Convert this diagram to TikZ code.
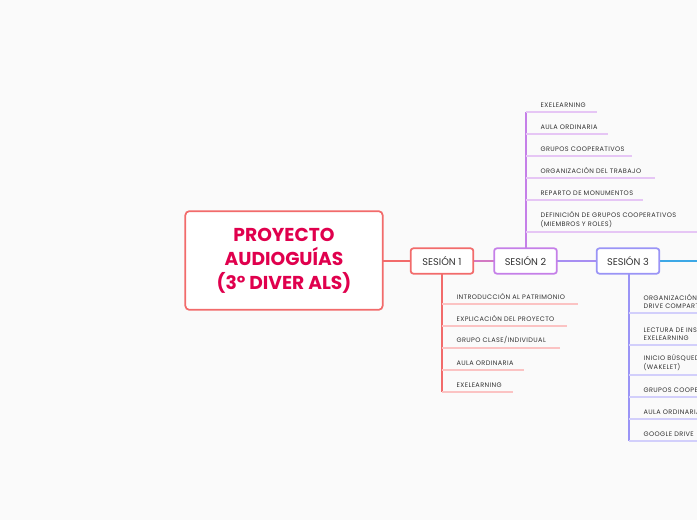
\documentclass[tikz,border=0pt]{standalone}
\usepackage{fontspec}
\setmainfont{Poppins}
\newfontfamily\leaffont[LetterSpace=6]{Poppins}
\definecolor{rd}{HTML}{F26B6B}
\definecolor{rdl}{HTML}{FBC3C3}
\definecolor{pu}{HTML}{C57FE8}
\definecolor{pul}{HTML}{E6C6F5}
\definecolor{bl}{HTML}{9A94F6}
\definecolor{bll}{HTML}{D2CFFB}
\definecolor{cy}{HTML}{3DA8E6}
\definecolor{ttl}{HTML}{E0004D}
\definecolor{tx}{HTML}{333333}
\begin{document}
\begin{tikzpicture}[x=0.75pt,y=-0.75pt,
  sess/.style={draw=#1,line width=1.3pt,rounded corners=2pt,fill=white,minimum width=47pt,minimum height=19pt,font=\fontsize{7.3}{8}\selectfont,text=tx},
  leaf/.style={anchor=south west,font=\leaffont\fontsize{4.9}{6.2}\selectfont,text=tx,align=left,inner sep=1pt}]
\useasboundingbox[fill=white!98!black] (0,0) rectangle (697,520);
\clip (0,0) rectangle (697,520);
% connectors
\draw[rd,line width=1pt] (383,261) -- (410,261);
\draw[pu!70!rd,line width=1pt] (474,261) -- (494,261);
\draw[bl!70!pu,line width=1pt] (557,261) -- (596,261);
\draw[cy,line width=1pt] (660,261) -- (697,261);
\node[draw=rd,line width=1.3pt,rounded corners=3pt,fill=white,minimum width=148pt,minimum height=74pt,text=ttl,align=center,font=\fontsize{14}{18}\selectfont\bfseries] (main) at (284,260.5) {PROYECTO\\AUDIOGUÍAS\\ (3º DIVER ALS)};
% session 2 children
\draw[pu,line width=0.9pt] (526,248) -- (526,112);
\foreach \y/\e/\t in {112/597/EXELEARNING,134/608/AULA ORDINARIA,156/632/GRUPOS COOPERATIVOS,178/655/ORGANIZACIÓN DEL TRABAJO,200/643/REPARTO DE MONUMENTOS,232/697/{DEFINICIÓN DE GRUPOS COOPERATIVOS\\(MIEMBROS Y ROLES)}}{
  \draw[pul,line width=0.8pt] (526,\y) -- (\e,\y);
  \node[leaf] at (539,\y-3) {\t};}
% session 1 children
\draw[rd,line width=0.9pt] (442,274) -- (442,392);
\foreach \y/\e/\t in {304/578/INTRODUCCIÓN AL PATRIMONIO,326/567/EXPLICACIÓN DEL PROYECTO,348/560/{GRUPO CLASE/INDIVIDUAL},370/524/AULA ORDINARIA,392/513/EXELEARNING}{
  \draw[rdl,line width=0.8pt] (442,\y) -- (\e,\y);
  \node[leaf] at (455,\y-3) {\t};}
% session 3 children
\draw[bl,line width=0.9pt] (629,274) -- (629,441);
\foreach \y/\t in {313/{ORGANIZACIÓN DE GRUPOS EN\\DRIVE COMPARTIDO},345/{LECTURA DE INSTRUCCIONES\\EXELEARNING},375/{INICIO BÚSQUEDA\\(WAKELET)},397/GRUPOS COOPERATIVOS,419/AULA ORDINARIA,441/GOOGLE DRIVE}{
  \draw[bll,line width=0.8pt] (629,\y) -- (697,\y);
  \node[leaf] at (642,\y-3) {\t};}
\node[sess=rd] (s1) at (442,261) {SESIÓN 1};
\node[sess=pu] (s2) at (525.5,261) {SESIÓN 2};
\node[sess=bl] (s3) at (628,261) {SESIÓN 3};
\end{tikzpicture}
\end{document}
